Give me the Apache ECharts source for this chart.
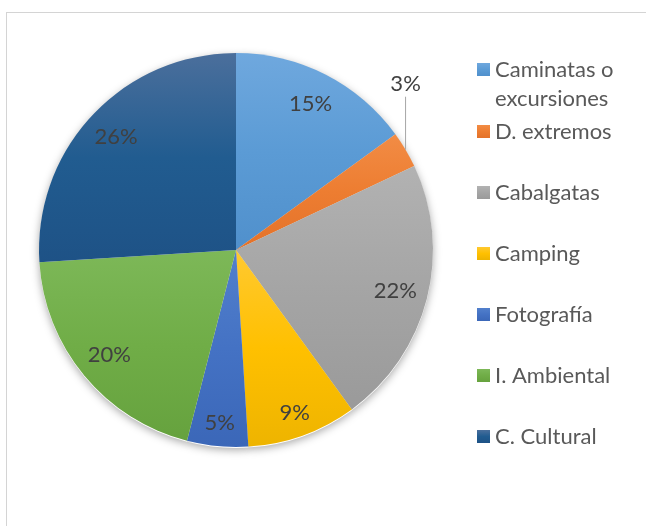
<!DOCTYPE html>
<html>
<head>
<meta charset="utf-8">
<script src="https://cdn.jsdelivr.net/npm/echarts@6/dist/echarts.min.js"></script>
<style>
  html, body { margin: 0; padding: 0; background: #fff; }
  body { width: 646px; height: 526px; position: relative; overflow: hidden; }
  #frame { position: absolute; left: 6px; top: 12px; width: 700px; height: 600px;
           border: 1px solid #d4d4d4; box-sizing: border-box; }
  #chart { position: absolute; left: 0; top: 0; width: 646px; height: 526px; }
</style>
</head>
<body>
<div id="frame"></div>
<div id="chart"></div>
<script>
// Actividades preferidas (porcentaje)
const categories = [
  'Caminatas o\nexcursiones',
  'D. extremos',
  'Cabalgatas',
  'Camping',
  'Fotografía',
  'I. Ambiental',
  'C. Cultural'
];
const values = [15, 3, 22, 9, 5, 20, 26];
// top / middle / bottom tones of each slice's vertical gradient
const topColors = ['#6fa8de', '#f28c45', '#b2b2b2', '#ffc931', '#5280cc', '#7db858', '#4b6f9c'];
const midColors = ['#5b9bd5', '#ed7d31', '#a5a5a5', '#ffc000', '#4472c4', '#70ad47', '#215c90'];
const botColors = ['#5090cc', '#e3722a', '#9a9a9a', '#eeb400', '#3b67b8', '#66a23e', '#1e5286'];

const LEADER_INDEX = 1; // slice whose label sits outside with a leader line
const FONT = 'Lato, "Open Sans", sans-serif';
const CENTER = [236, 250];
const RADIUS = 197;

function grad(i) {
  return new echarts.graphic.LinearGradient(0, 0, 0, 1, [
    { offset: 0, color: topColors[i] },
    { offset: 0.5, color: midColors[i] },
    { offset: 1, color: botColors[i] }
  ]);
}

const mainData = categories.map((name, i) => ({
  name: name, value: values[i], itemStyle: { color: grad(i) }
}));
const shadowData = categories.map((name, i) => ({ name: name, value: values[i] }));
const labelData = categories.map((name, i) => {
  const item = { name: name, value: values[i] };
  if (i === LEADER_INDEX) {
    item.label = { position: 'outside' };
    item.labelLine = { show: true, length: 10, length2: 10 };
  }
  return item;
});

const chart = echarts.init(document.getElementById('chart'), null, { renderer: 'canvas' });

const legendText = { fontFamily: FONT, fontSize: 22, color: '#595959', lineHeight: 29 };
const legendBase = {
  orient: 'vertical',
  left: 477,
  padding: 0,
  itemWidth: 13,
  itemHeight: 13,
  itemGap: 32,
  icon: 'rect',
  textStyle: legendText
};

chart.setOption({
  animation: false,
  legend: [
    // wrapped first entry: an empty leading line keeps its icon level with the first text line
    Object.assign({}, legendBase, {
      top: 26,
      data: [categories[0]],
      formatter: name => ' \n' + name
    }),
    Object.assign({}, legendBase, {
      top: 117,
      data: categories.slice(1)
    })
  ],
  series: [
    {
      // main pie
      type: 'pie',
      z: 2,
      center: CENTER,
      radius: [0, RADIUS],
      startAngle: 90,
      clockwise: true,
      label: { show: false },
      labelLine: { show: false },
      emphasis: { disabled: true },
      itemStyle: { borderWidth: 0 },
      data: mainData
    },
    {
      // soft drop shadow underneath the pie
      type: 'pie',
      z: 1,
      silent: true,
      legendHoverLink: false,
      center: [CENTER[0], CENTER[1] + 1],
      radius: [0, RADIUS],
      startAngle: 90,
      label: { show: false },
      labelLine: { show: false },
      itemStyle: { color: '#ffffff', shadowBlur: 9, shadowColor: 'rgba(0,0,0,0.35)', shadowOffsetY: 2 },
      data: shadowData
    },
    {
      // transparent ring that carries the data labels
      type: 'pie',
      z: 3,
      silent: true,
      legendHoverLink: false,
      center: CENTER,
      radius: [126, RADIUS],
      startAngle: 90,
      itemStyle: { color: 'rgba(0,0,0,0)' },
      label: {
        show: true,
        position: 'inside',
        formatter: p => p.value + '%',
        fontFamily: FONT,
        fontSize: 22,
        color: '#404040'
      },
      labelLine: { show: false, lineStyle: { color: '#a6a6a6', width: 1 } },
      labelLayout: function (p) {
        if (p.dataIndex === LEADER_INDEX && p.labelLinePoints) {
          const x0 = p.labelLinePoints[0][0];
          const y0 = p.labelLinePoints[0][1];
          const top = y0 - 53;
          return {
            x: x0, y: top - 2, align: 'center', verticalAlign: 'bottom',
            labelLinePoints: [[x0, y0], [x0, top], [x0, top]]
          };
        }
        // narrow slices: push the label a little further toward the rim
        if (values[p.dataIndex] < 10 && p.labelRect) {
          const cx = p.labelRect.x + p.labelRect.width / 2 - CENTER[0];
          const cy = p.labelRect.y + p.labelRect.height / 2 - CENTER[1];
          const d = Math.sqrt(cx * cx + cy * cy) || 1;
          return { dx: cx / d * 9, dy: cy / d * 9 };
        }
        return {};
      },
      data: labelData
    }
  ]
});
</script>
</body>
</html>
